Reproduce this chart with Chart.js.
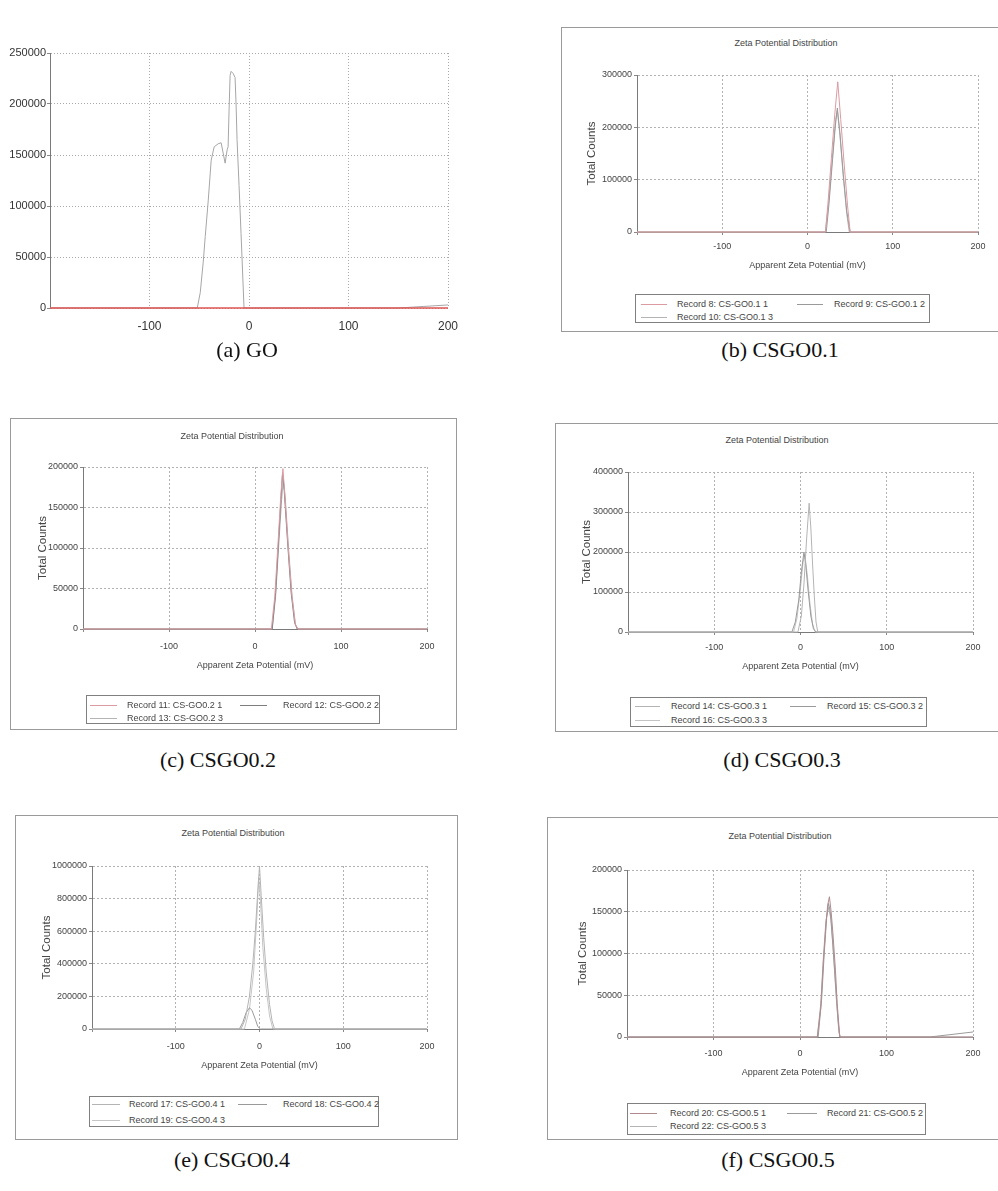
<!DOCTYPE html>
<html>
<head>
<meta charset="utf-8">
<title>Zeta Potential Distribution</title>
<script src="https://cdn.jsdelivr.net/npm/chart.js@4.4.1/dist/chart.umd.min.js"></script>
<style>
  html, body { margin: 0; padding: 0; background: #fff; }
  body { width: 998px; height: 1191px; position: relative; overflow: hidden; font-family: "Liberation Sans", Arial, sans-serif; }
  .abs { position: absolute; }
  canvas.abs { display: block; }
  .panel-box { position: absolute; border: 1px solid #9a9a9a; box-sizing: border-box; }
  .legend-box { position: absolute; border: 1px solid #808080; box-sizing: border-box; }
  .small { position: absolute; font-size: 9px; color: #444; white-space: nowrap; line-height: 1; }
  .caption { position: absolute; font-family: "Liberation Serif", "Times New Roman", serif; font-size: 22px; color: #111; white-space: nowrap; transform: translate(-50%, -50%); line-height: 1; }
  .swatch { position: absolute; height: 0; border-top: 1px solid #999; }
</style>
</head>
<body>
<script>
// ---- x axis (apparent zeta potential, mV) shared by all panels ----
const xTickValues = [-200, -100, 0, 100, 200];

// ---- y axis ticks (total counts) ----
const yTicksGO   = [0, 50000, 100000, 150000, 200000, 250000];
const yTicks01   = [0, 100000, 200000, 300000];
const yTicks02   = [0, 50000, 100000, 150000, 200000];
const yTicks03   = [0, 100000, 200000, 300000, 400000];
const yTicks04   = [0, 200000, 400000, 600000, 800000, 1000000];
const yTicks05   = [0, 50000, 100000, 150000, 200000];

// ---- (a) GO ----
const goX = [-200, -150, -100, -60, -52, -49, -46, -44, -41, -38, -35, -31, -28, -26, -24, -22, -21, -20, -19, -18, -16, -14, -13, -12, -10, -8, -5, 0, 50, 100, 150, 175, 200];
const goY = [0, 0, 0, 0, 0, 15000, 45000, 70000, 105000, 145000, 158000, 161000, 162000, 152000, 142000, 155000, 158000, 195000, 228000, 232000, 230000, 226000, 200000, 165000, 120000, 73000, 0, 0, 0, 0, 0, 1500, 3000];
const goBaseX = [-200, 200];
const goBaseY = [0, 0];

// ---- (b) CSGO0.1 ----
const rec8X  = [-200, 21, 24, 28, 32, 35.5, 39, 43, 47, 50, 200];
const rec8Y  = [0, 0, 55000, 140000, 225000, 287000, 215000, 130000, 50000, 0, 0];
const rec9X  = [-200, 22, 25, 29, 32.5, 35, 38, 42, 46, 50, 200];
const rec9Y  = [0, 0, 50000, 130000, 200000, 237000, 190000, 110000, 40000, 0, 0];
const rec10X = [-200, 21, 25, 29, 33, 35, 38, 42, 46, 49, 200];
const rec10Y = [0, 0, 60000, 140000, 215000, 232000, 185000, 105000, 35000, 0, 0];

// ---- (c) CSGO0.2 ----
const rec11X = [-200, 19, 23, 27, 30, 32.5, 35, 39, 43, 47, 50, 200];
const rec11Y = [0, 0, 40000, 110000, 165000, 198000, 160000, 95000, 40000, 5000, 0, 0];
const rec12X = [-200, 20, 24, 28, 31, 32, 34, 38, 42, 46, 49, 200];
const rec12Y = [0, 0, 45000, 120000, 175000, 193000, 170000, 105000, 45000, 8000, 0, 0];
const rec13X = [-200, 20, 24, 28, 31, 33, 35, 39, 43, 47, 50, 200];
const rec13Y = [0, 0, 40000, 110000, 160000, 185000, 165000, 100000, 42000, 6000, 0, 0];

// ---- (d) CSGO0.3 ----
const rec14X = [-200, -3, 1, 4, 7, 10, 12, 14, 16, 18, 20, 200];
const rec14Y = [0, 0, 40000, 120000, 230000, 322000, 260000, 170000, 90000, 25000, 0, 0];
const rec15X = [-200, -10, -6, -2, 1, 4, 6, 9, 12, 15, 18, 200];
const rec15Y = [0, 0, 25000, 80000, 150000, 200000, 170000, 100000, 40000, 8000, 0, 0];
const rec16X = [-200, -8, -4, 0, 3, 5, 8, 11, 14, 17, 200];
const rec16Y = [0, 0, 35000, 110000, 175000, 195000, 140000, 70000, 20000, 0, 0];

// ---- (e) CSGO0.4 ----
const rec17X = [-200, -22, -17, -12, -8, -5, -2, 0, 2, 5, 8, 12, 15, 18, 200];
const rec17Y = [0, 0, 60000, 200000, 400000, 600000, 850000, 1000000, 820000, 560000, 350000, 150000, 50000, 0, 0];
const rec18X = [-200, -24, -20, -16, -12, -9, -5, -2, 1, 200];
const rec18Y = [0, 0, 40000, 100000, 130000, 115000, 60000, 15000, 0, 0];
const rec19X = [-200, -18, -12, -7, -3, -1, 1, 4, 8, 12, 16, 200];
const rec19Y = [0, 0, 120000, 350000, 700000, 930000, 800000, 500000, 250000, 80000, 0, 0];

// ---- (f) CSGO0.5 ----
const rec20X = [-200, 20, 24, 27, 30, 32, 34, 36, 38, 41, 43, 46, 200];
const rec20Y = [0, 0, 35000, 90000, 135000, 158000, 168000, 150000, 125000, 80000, 40000, 0, 0];
const rec21X = [-200, 21, 25, 28, 31, 33, 35, 38, 41, 44, 46, 150, 200];
const rec21Y = [0, 0, 45000, 100000, 145000, 160000, 150000, 110000, 65000, 20000, 0, 0, 6000];
const rec22X = [-200, 20, 24, 27, 30, 33, 36, 39, 42, 45, 47, 200];
const rec22Y = [0, 0, 40000, 95000, 140000, 155000, 140000, 95000, 45000, 5000, 0, 0];

// ---- text ----
const chartTitle = 'Zeta Potential Distribution';
const xAxisTitle = 'Apparent Zeta Potential (mV)';
const yAxisTitle = 'Total Counts';
const captions = ['(a)  GO', '(b)  CSGO0.1', '(c)  CSGO0.2', '(d)  CSGO0.3', '(e)  CSGO0.4', '(f)  CSGO0.5'];
const legend01 = ['Record 8: CS-GO0.1 1', 'Record 9: CS-GO0.1 2', 'Record 10: CS-GO0.1 3'];
const legend02 = ['Record 11: CS-GO0.2 1', 'Record 12: CS-GO0.2 2', 'Record 13: CS-GO0.2 3'];
const legend03 = ['Record 14: CS-GO0.3 1', 'Record 15: CS-GO0.3 2', 'Record 16: CS-GO0.3 3'];
const legend04 = ['Record 17: CS-GO0.4 1', 'Record 18: CS-GO0.4 2', 'Record 19: CS-GO0.4 3'];
const legend05 = ['Record 20: CS-GO0.5 1', 'Record 21: CS-GO0.5 2', 'Record 22: CS-GO0.5 3'];

// ---- styling ----
const FONT = '"Liberation Sans", Arial, sans-serif';
const PINK = '#dc9aa2';
const GREY1 = '#9a9a9a';
const GREY2 = '#b4b4b4';
const TEXT = '#444';

// ---- page layout (pixels) ----
const panels = [
  { plain: true, canvas: [0, 40, 470, 300], area: [50, 53, 448, 308], xTickY: 325,
    yTicks: yTicksGO, caption: [247, 350],
    series: [ { x: goBaseX, y: goBaseY, color: '#e05555', width: 1.6 }, { x: goX, y: goY, color: '#a6a6a6' } ] },
  { box: [561, 27, 1010, 332], canvas: [563, 29, 430, 250], area: [637, 75, 978, 232],
    yTitleX: 592, xTitleY: 266, xTickY: 246, title: [786, 43], yTicks: yTicks01, caption: [780, 350],
    legend: { box: [635, 294, 930, 323], rows: [304, 317], cols: [[641, 667, 677], [797, 823, 834]], labels: legend01 },
    series: [ { x: rec8X, y: rec8Y, color: PINK }, { x: rec9X, y: rec9Y, color: GREY1 }, { x: rec10X, y: rec10Y, color: GREY2 } ] },
  { box: [10, 418, 457, 730], canvas: [12, 420, 440, 270], area: [83, 467, 427, 629],
    yTitleX: 43, xTitleY: 666, xTickY: 646, title: [232, 436], yTicks: yTicks02, caption: [218, 760],
    legend: { box: [86, 695, 380, 724], rows: [705, 718], cols: [[90, 117, 127], [240, 267, 283]], labels: legend02 },
    series: [ { x: rec11X, y: rec11Y, color: PINK }, { x: rec12X, y: rec12Y, color: '#7e7e7e' }, { x: rec13X, y: rec13Y, color: GREY2 } ] },
  { box: [555, 423, 1010, 732], canvas: [557, 425, 436, 270], area: [628, 472, 973, 632],
    yTitleX: 587, xTitleY: 667, xTickY: 647, title: [777, 440], yTicks: yTicks03, caption: [782, 760],
    legend: { box: [630, 697, 927, 727], rows: [706, 720], cols: [[635, 660, 671], [790, 816, 827]], labels: legend03 },
    series: [ { x: rec14X, y: rec14Y, color: GREY2 }, { x: rec15X, y: rec15Y, color: GREY1 }, { x: rec16X, y: rec16Y, color: '#c4c4c4' } ] },
  { box: [15, 815, 458, 1140], canvas: [17, 817, 436, 275], area: [92, 866, 427, 1029],
    yTitleX: 47, xTitleY: 1066, xTickY: 1046, title: [233, 833], yTicks: yTicks04, caption: [232, 1160],
    legend: { box: [89, 1096, 379, 1127], rows: [1104, 1120], cols: [[92, 120, 129], [238, 267, 283]], labels: legend04 },
    series: [ { x: rec17X, y: rec17Y, color: GREY2 }, { x: rec18X, y: rec18Y, color: GREY1 }, { x: rec19X, y: rec19Y, color: '#c6c6c6' } ] },
  { box: [547, 817, 1010, 1140], canvas: [549, 819, 444, 280], area: [627, 870, 973, 1037],
    yTitleX: 583, xTitleY: 1073, xTickY: 1053, title: [780, 836], yTicks: yTicks05, caption: [778, 1160],
    legend: { box: [627, 1103, 926, 1135], rows: [1113, 1126], cols: [[630, 657, 670], [787, 817, 827]], labels: legend05 },
    series: [ { x: rec20X, y: rec20Y, color: '#b08a8e' }, { x: rec21X, y: rec21Y, color: GREY1 }, { x: rec22X, y: rec22Y, color: GREY2 } ] }
];

Chart.defaults.font.family = FONT;
Chart.defaults.color = TEXT;

function el(tag, cls, css, text) {
  const e = document.createElement(tag);
  if (cls) e.className = cls;
  Object.assign(e.style, css || {});
  if (text !== undefined) e.textContent = text;
  document.body.appendChild(e);
  return e;
}
const px = v => v + 'px';

function drawPanel(p, idx) {
  // outer frame of the instrument printout
  if (p.box) {
    const [l, t, r, b] = p.box;
    el('div', 'panel-box', { left: px(l), top: px(t), width: px(r - l), height: px(b - t) });
  }
  // chart heading
  if (p.title) {
    el('div', 'small', { left: px(p.title[0]), top: px(p.title[1]), transform: 'translate(-50%,-50%)' }, chartTitle);
  }

  const [l, t, w, h] = p.canvas;
  const [cl, ct, cr, cb] = p.area;
  const yW = cl - l, padR = l + w - cr, padT = ct - t, xH = t + h - cb;

  const canvas = document.createElement('canvas');
  canvas.className = 'abs';
  canvas.width = w; canvas.height = h;
  Object.assign(canvas.style, { left: px(l), top: px(t), width: px(w), height: px(h) });
  document.body.appendChild(canvas);

  const plain = !!p.plain;
  const xFont = plain ? 12 : 9;
  const yFont = plain ? 11 : 9;
  const yTitleSize = 11.5;
  const xTitleSize = 9;
  const tickLen = 3;
  const xTickPad = p.xTickY - xFont / 2 - cb - (plain ? 0 : tickLen);

  const gridColor = plain ? '#a9a9a9' : '#b3b3b3';

  const datasets = p.series.map(s => ({
    data: s.x.map((x, i) => ({ x: x, y: s.y[i] })),
    borderColor: s.color,
    borderWidth: s.width || 1,
    pointRadius: 0,
    tension: 0,
    fill: false,
    clip: 3
  }));

  new Chart(canvas, {
    type: 'line',
    data: { datasets },
    options: {
      responsive: false,
      animation: false,
      events: [],
      layout: { padding: { left: 0, right: padR, top: padT, bottom: 0 } },
      plugins: { legend: { display: false }, tooltip: { enabled: false }, title: { display: false } },
      scales: {
        x: {
          type: 'linear', min: -200, max: 200,
          afterBuildTicks: s => { s.ticks = xTickValues.map(v => ({ value: v })); },
          afterFit: s => { s.height = xH; },
          ticks: {
            autoSkip: false, maxRotation: 0, padding: xTickPad,
            font: { size: xFont }, color: plain ? '#333' : TEXT,
            callback: v => (v === -200 ? '' : String(v))
          },
          grid: { color: gridColor, lineWidth: 1, drawTicks: !plain, tickLength: tickLen, tickColor: '#888' },
          border: { display: !plain, color: '#7a7a7a', width: 1, dash: plain ? [1, 2] : [2, 2] },
          title: plain ? { display: false } : {
            display: true, text: xAxisTitle, color: TEXT,
            font: { size: xTitleSize },
            padding: { top: 0, bottom: (t + h) - p.xTitleY - xTitleSize * 1.2 / 2 }
          }
        },
        y: {
          type: 'linear', min: 0, max: p.yTicks[p.yTicks.length - 1],
          afterBuildTicks: s => { s.ticks = p.yTicks.map(v => ({ value: v })); },
          afterFit: s => { s.width = yW; },
          ticks: {
            autoSkip: false, padding: plain ? 1 : 2,
            font: { size: yFont }, color: plain ? '#333' : TEXT,
            callback: v => String(v)
          },
          grid: { color: gridColor, lineWidth: 1, drawTicks: true, tickLength: tickLen, tickColor: '#888' },
          border: { display: true, color: '#7a7a7a', width: 1, dash: plain ? [1, 2] : [2, 2] },
          title: plain ? { display: false } : {
            display: true, text: yAxisTitle, color: TEXT,
            font: { size: yTitleSize },
            padding: { top: p.yTitleX - l - yTitleSize * 1.2 / 2, bottom: 0 }
          }
        }
      }
    }
  });

  // record legend of the printout
  if (p.legend) {
    const L = p.legend;
    const [bl, bt, br, bb] = L.box;
    el('div', 'legend-box', { left: px(bl), top: px(bt), width: px(br - bl), height: px(bb - bt) });
    const slots = [[0, 0], [1, 0], [0, 1]];
    L.labels.forEach((label, i) => {
      const [col, row] = slots[i];
      const [x1, x2, tx] = L.cols[col];
      const y = L.rows[row];
      el('div', 'swatch', { left: px(x1), top: px(y), width: px(x2 - x1), borderTopColor: p.series[i].color });
      el('div', 'small', { left: px(tx), top: px(y), transform: 'translateY(-50%)' }, label);
    });
  }

  // sub-figure caption
  el('div', 'caption', { left: px(p.caption[0]), top: px(p.caption[1]) }, captions[idx]);
}

panels.forEach(drawPanel);
</script>
</body>
</html>
